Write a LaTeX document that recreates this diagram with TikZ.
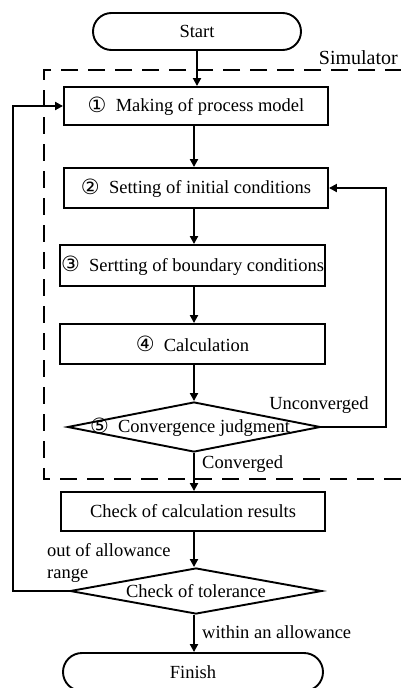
\documentclass[tikz,border=0pt]{standalone}
\usepackage{fontspec}
\setmainfont{Liberation Serif}
\newfontfamily\circfont{DejaVu Sans}
\usetikzlibrary{shapes.geometric,shapes.misc,arrows.meta}
\newcommand{\cnum}[1]{{\circfont\fontsize{21}{22}\selectfont\raisebox{-0.5pt}{#1}}}
\begin{document}
\begin{tikzpicture}[x=1pt,y=-1pt,
  every node/.style={font=\fontsize{18.5}{22}\selectfont},
  procbox/.style={draw, line width=1.9pt, inner sep=0pt},
  terminal/.style={draw, line width=1.9pt, rounded rectangle, inner sep=0pt},
  decide/.style={draw, line width=1.9pt, diamond, inner sep=0pt},
  flow/.style={line width=1.9pt, -{Triangle[length=8pt,width=8pt]}},
  lab/.style={inner sep=0pt},
  simbox/.style={line width=2.8pt, dash pattern=on 17pt off 10pt}]
\useasboundingbox (0,0) rectangle (400,688);
% simulator dashed frame
\coordinate (s1) at (402,70);
\coordinate (s2) at (44,70);
\coordinate (s3) at (44,479);
\coordinate (s4) at (402,479);
\draw[simbox] (s1) -- (s2) -- (s3) -- (s4);
\node[lab, anchor=east] (sim) at (398,58) {\fontsize{20}{24}\selectfont Simulator};
% nodes
\node[terminal, minimum width=208pt, minimum height=37pt] (start) at (197,31.5) {Start};
\node[procbox, minimum width=264pt, minimum height=38pt] (b1) at (196,106) {\cnum{①}\ \ Making of process model};
\node[procbox, minimum width=264pt, minimum height=40pt] (b2) at (196,188) {\cnum{②}\ \ Setting of initial conditions};
\node[procbox, minimum width=265pt, minimum height=41pt] (b3) at (192.5,265.5) {\cnum{③}\ \ Sertting of boundary conditions};
\node[procbox, minimum width=265pt, minimum height=40pt] (b4) at (192.5,344) {\cnum{④}\ \ Calculation};
\node[decide, minimum width=253pt, minimum height=50pt] (d5) at (194,427) {};
\node[lab] (d5t) at (190,427) {\cnum{⑤}\ \ Convergence judgment};
\node[procbox, minimum width=264pt, minimum height=39pt] (chk) at (193,511.5) {Check of calculation results};
\node[decide, minimum width=252pt, minimum height=46pt] (tol) at (196,591) {};
\node[lab] (tolt) at (196,591) {Check of tolerance};
\node[terminal, minimum width=260pt, minimum height=38pt] (fin) at (193,672) {Finish};
% axis for vertical arrows
\coordinate (ax) at (194,0);
\draw[flow] (start.south -| start.center) -- (b1.north -| start.center);
\draw[flow] (b1.south -| ax) -- (b2.north -| ax);
\draw[flow] (b2.south -| ax) -- (b3.north -| ax);
\draw[flow] (b3.south -| ax) -- (b4.north -| ax);
\draw[flow] (b4.south -| ax) -- (d5.north);
\draw[flow] (d5.south) -- (chk.north -| ax);
\draw[flow] (chk.south -| ax) -- (tol.north -| ax);
\draw[flow] (tol.south -| ax) -- (fin.north -| ax);
% loops
\coordinate (ur) at (386,188);
\draw[flow] (d5.east) -| (ur) -- (b2.east);
\coordinate (ul) at (13,106);
\draw[flow] (tol.west) -| (ul) -- (b1.west);
% labels
\node[lab] (unc) at (319,405) {Unconverged};
\node[lab, anchor=west] (conv) at (202,464) {Converged};
\node[lab, anchor=west, align=left] (out) at (47,563) {out of allowance\\range};
\node[lab, anchor=west] (within) at (202,632) {within an allowance};
\end{tikzpicture}
\end{document}
